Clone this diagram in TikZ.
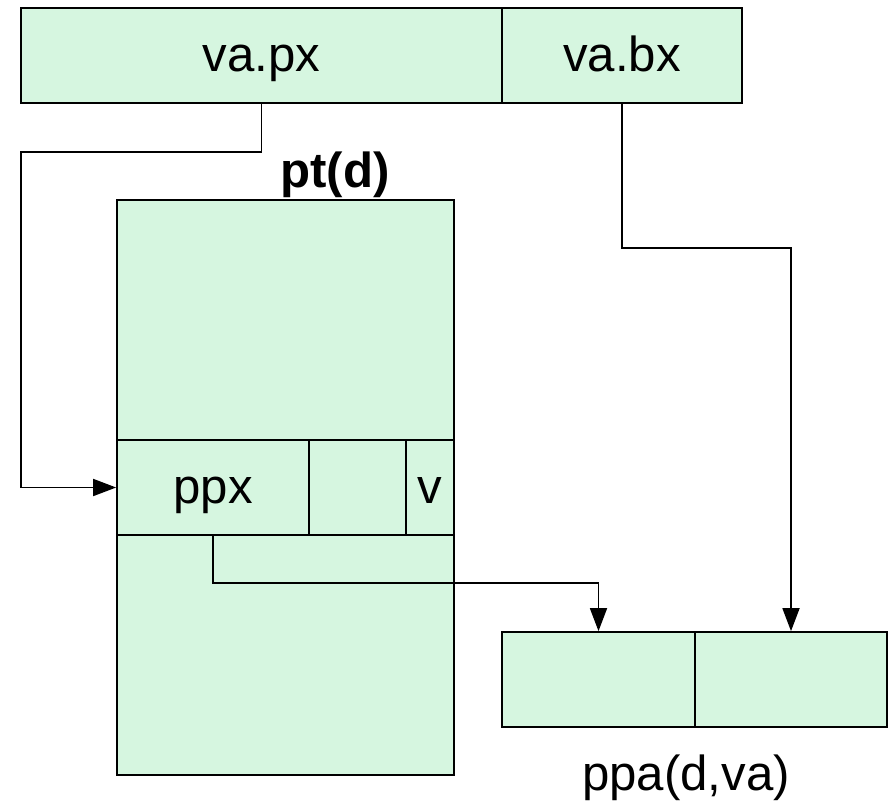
\documentclass[tikz,border=0pt]{standalone}
\usepackage{fontspec}
\setmainfont{Liberation Sans}
\usetikzlibrary{arrows.meta}
\definecolor{cellgreen}{RGB}{214,246,224}
\begin{document}
\begin{tikzpicture}[x=0.02cm, y=-0.02cm,
        cell/.style={draw, line width=1pt, fill=cellgreen, rectangle, inner sep=0pt,
                     minimum height=1.9cm, text height=20pt, text depth=2pt,
                     font=\fontsize{28}{32}\selectfont},
        link/.style={line width=1pt, -{Triangle[length=0.46cm, width=0.34cm]}}]
    \useasboundingbox (0,0) rectangle (892,801);
    % top bar
    \node[cell, minimum width=9.62cm] (vapx) at (261.5,55.5) {va.px};
    \node[cell, minimum width=4.8cm] (vabx) at (622,55.5) {va.bx};
    % page table
    \node[anchor=base, font=\bfseries\fontsize{28}{32}\selectfont] (ptlabel) at (335,187) {pt(d)};
    \node[cell, minimum width=6.74cm, minimum height=4.8cm] (ptup) at (285.5,320) {};
    \node[cell, minimum width=3.84cm] (ppx) at (213,487.5) {ppx};
    \node[cell, minimum width=1.94cm] (ptmid) at (357.5,487.5) {};
    \node[cell, minimum width=0.96cm] (ptv) at (430,487.5) {v};
    \node[cell, minimum width=6.74cm, minimum height=4.8cm] (ptlow) at (285.5,655) {};
    % physical address
    \node[cell, minimum width=3.86cm] (ppal) at (598.5,679.5) {};
    \node[cell, minimum width=3.84cm] (ppar) at (791,679.5) {};
    \node[anchor=base, font=\fontsize{28}{32}\selectfont] (ppalabel) at (686,790) {ppa(d,va)};
    % connectors
    \coordinate (pxleft) at (21,152);
    \coordinate (bxturn) at (622,248);
    \coordinate (ppxturn) at (213,583);
    \draw[link] (vapx.south) |- (pxleft) |- (ppx.west);
    \draw[link] (vabx.south) -- (bxturn) -| (ppar.north);
    \draw[link] (ppx.south) -- (ppxturn) -| (ppal.north);
\end{tikzpicture}
\end{document}
